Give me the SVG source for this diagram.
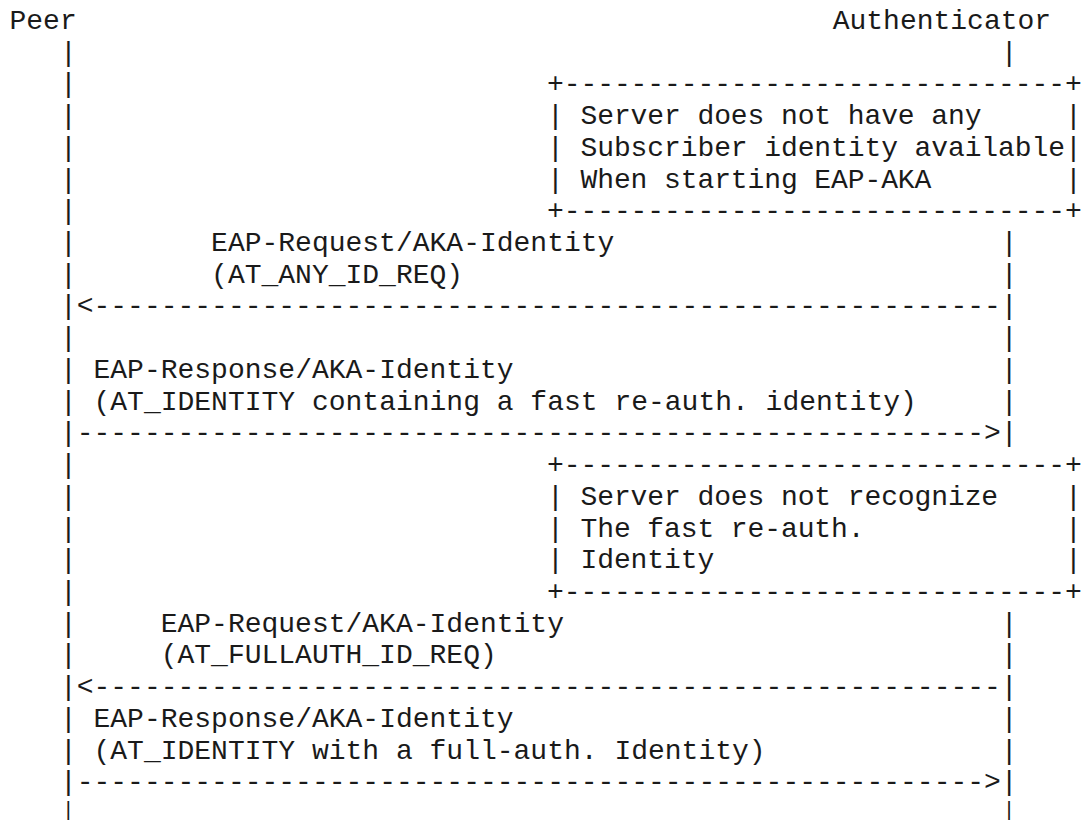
<svg xmlns="http://www.w3.org/2000/svg" width="1082" height="823" viewBox="0 0 1082 823">
<style>
text{font-family:"Liberation Mono","DejaVu Sans Mono",monospace;font-size:28px;fill:#1a1a1a;white-space:pre}
text.tail{font-size:21px}
</style>
<rect width="1082" height="823" fill="#fff"/>
<g id="peer"><text x="9.5" y="29">Peer</text></g>
<g id="authenticator"><text x="832.7" y="29">Authenticator</text></g>
<g id="note-no-identity">
<text x="547.1" y="92.44" textLength="534.6" lengthAdjust="spacing">+------------------------------+</text>
<text x="547.1" y="124.16" textLength="534.6" lengthAdjust="spacing">| Server does not have any     |</text>
<text x="547.1" y="155.88" textLength="534.6" lengthAdjust="spacing">| Subscriber identity available|</text>
<text x="547.1" y="187.6" textLength="534.6" lengthAdjust="spacing">| When starting EAP-AKA        |</text>
<text x="547.1" y="219.32" textLength="534.6" lengthAdjust="spacing">+------------------------------+</text>
</g>
<g id="note-not-recognized">
<text x="547.1" y="473.08" textLength="534.6" lengthAdjust="spacing">+------------------------------+</text>
<text x="547.1" y="504.8" textLength="534.6" lengthAdjust="spacing">| Server does not recognize    |</text>
<text x="547.1" y="536.52" textLength="534.6" lengthAdjust="spacing">| The fast re-auth.            |</text>
<text x="547.1" y="568.24" textLength="534.6" lengthAdjust="spacing">| Identity                     |</text>
<text x="547.1" y="599.96" textLength="534.6" lengthAdjust="spacing">+------------------------------+</text>
</g>
<g id="connectors">
<g id="lifeline-peer">
<text x="59.9" y="60.72">|</text><text x="59.9" y="92.44">|</text><text x="59.9" y="124.16">|</text><text x="59.9" y="155.88">|</text><text x="59.9" y="187.6">|</text><text x="59.9" y="219.32">|</text><text x="59.9" y="251.04">|</text><text x="59.9" y="282.76">|</text><text x="59.9" y="314.48">|</text><text x="59.9" y="346.2">|</text><text x="59.9" y="377.92">|</text><text x="59.9" y="409.64">|</text><text x="59.9" y="441.36">|</text><text x="59.9" y="473.08">|</text><text x="59.9" y="504.8">|</text><text x="59.9" y="536.52">|</text><text x="59.9" y="568.24">|</text><text x="59.9" y="599.96">|</text><text x="59.9" y="631.68">|</text><text x="59.9" y="663.4">|</text><text x="59.9" y="695.12">|</text><text x="59.9" y="726.84">|</text><text x="59.9" y="758.56">|</text><text x="59.9" y="790.28">|</text><text class="tail" x="62" y="816.4">|</text>
</g>
<g id="lifeline-authenticator">
<text x="1000.7" y="60.72">|</text><text x="1000.7" y="251.04">|</text><text x="1000.7" y="282.76">|</text><text x="1000.7" y="314.48">|</text><text x="1000.7" y="346.2">|</text><text x="1000.7" y="377.92">|</text><text x="1000.7" y="409.64">|</text><text x="1000.7" y="441.36">|</text><text x="1000.7" y="631.68">|</text><text x="1000.7" y="663.4">|</text><text x="1000.7" y="695.12">|</text><text x="1000.7" y="726.84">|</text><text x="1000.7" y="758.56">|</text><text x="1000.7" y="790.28">|</text><text class="tail" x="1002.8" y="816.4">|</text>
</g>
<g id="msg-1">
<text x="211.1" y="251.04">EAP-Request/AKA-Identity</text>
<text x="211.1" y="282.76">(AT_ANY_ID_REQ)</text>
<text x="76.7" y="314.48">&lt;------------------------------------------------------</text>
</g>
<g id="msg-2">
<text x="93.5" y="377.92">EAP-Response/AKA-Identity</text>
<text x="93.5" y="409.64">(AT_IDENTITY containing a fast re-auth. identity)</text>
<text x="76.7" y="441.36">------------------------------------------------------&gt;</text>
</g>
<g id="msg-3">
<text x="160.7" y="631.68">EAP-Request/AKA-Identity</text>
<text x="160.7" y="663.4">(AT_FULLAUTH_ID_REQ)</text>
<text x="76.7" y="695.12">&lt;------------------------------------------------------</text>
</g>
<g id="msg-4">
<text x="93.5" y="726.84">EAP-Response/AKA-Identity</text>
<text x="93.5" y="758.56">(AT_IDENTITY with a full-auth. Identity)</text>
<text x="76.7" y="790.28">------------------------------------------------------&gt;</text>
</g>
</g>
</svg>
